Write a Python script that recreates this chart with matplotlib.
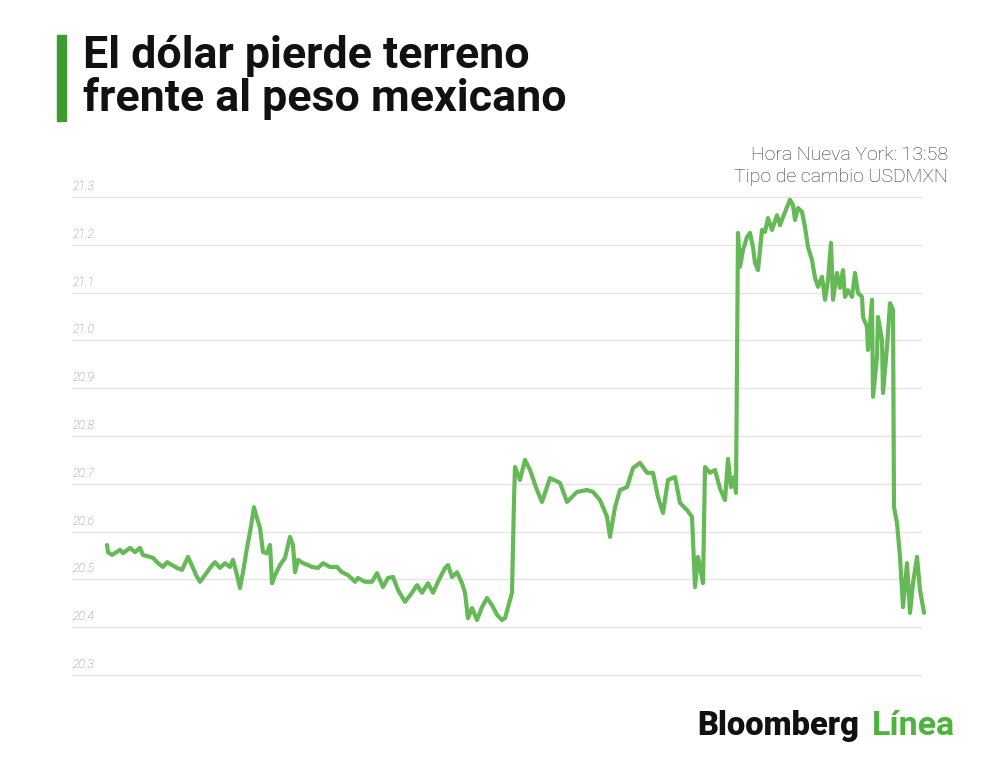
import matplotlib
matplotlib.use("Agg")
import matplotlib.pyplot as plt
from matplotlib.patches import Rectangle
import matplotlib.transforms as mtransforms

# ---- data (USDMXN intraday; t = relative time units) ----
t = [3, 4, 8, 16, 19, 26, 31, 36, 39, 46,
     49, 54, 59, 63, 68, 73, 78, 84, 89, 93,
     96, 101, 106, 111, 116, 121, 126, 129, 133, 136,
     139, 143, 146, 150, 153, 156, 159, 163, 166, 168,
     171, 176, 181, 186, 189, 191, 194, 199, 204, 208,
     214, 219, 226, 233, 238, 244, 251, 254, 261, 268,
     273, 279, 284, 289, 294, 301, 308, 313, 318, 324,
     329, 334, 341, 344, 348, 353, 358, 361, 364, 368,
     373, 378, 383, 388, 393, 398, 401, 404, 406, 408,
     410, 411, 416, 421, 426, 433, 438, 446, 456, 463,
     473, 483, 489, 496, 503, 506, 511, 516, 523, 529,
     536, 543, 549, 554, 559, 564, 571, 576, 583, 588,
     591, 594, 599, 601, 606, 611, 616, 621, 624, 627,
     630, 632, 634, 636, 639, 643, 646, 649, 651, 654,
     658, 661, 664, 668, 673, 676, 679, 683, 686, 689,
     691, 694, 698, 701, 704, 708, 711, 714, 718, 721,
     724, 727, 729, 733, 736, 739, 741, 744, 748, 751,
     754, 758, 759, 763, 764, 768, 769, 773, 774, 778,
     779, 783, 786, 789, 790, 793, 796, 799, 803, 806,
     809, 813, 816, 820]
usdmxn = [20.572, 20.557, 20.551, 20.562, 20.555, 20.566, 20.557, 20.566, 20.551, 20.547,
          20.545, 20.534, 20.526, 20.536, 20.530, 20.524, 20.520, 20.547, 20.524, 20.505,
          20.495, 20.509, 20.524, 20.536, 20.524, 20.534, 20.526, 20.541, 20.509, 20.482,
          20.515, 20.566, 20.599, 20.651, 20.628, 20.608, 20.557, 20.555, 20.572, 20.492,
          20.509, 20.530, 20.545, 20.589, 20.572, 20.515, 20.541, 20.534, 20.530, 20.526,
          20.524, 20.534, 20.526, 20.526, 20.515, 20.509, 20.495, 20.503, 20.495, 20.495,
          20.513, 20.484, 20.503, 20.505, 20.478, 20.453, 20.472, 20.488, 20.472, 20.492,
          20.472, 20.495, 20.524, 20.530, 20.505, 20.515, 20.492, 20.472, 20.419, 20.440,
          20.415, 20.442, 20.461, 20.446, 20.426, 20.415, 20.419, 20.442, 20.457, 20.472,
          20.666, 20.735, 20.708, 20.750, 20.729, 20.687, 20.662, 20.712, 20.702, 20.662,
          20.683, 20.687, 20.683, 20.666, 20.631, 20.589, 20.651, 20.687, 20.693, 20.733,
          20.744, 20.723, 20.723, 20.672, 20.639, 20.708, 20.714, 20.660, 20.645, 20.631,
          20.484, 20.547, 20.492, 20.735, 20.723, 20.729, 20.690, 20.666, 20.752, 20.693,
          20.714, 20.681, 21.225, 21.154, 21.189, 21.216, 21.225, 21.195, 21.162, 21.147,
          21.231, 21.227, 21.256, 21.231, 21.262, 21.241, 21.258, 21.279, 21.294, 21.283,
          21.252, 21.277, 21.269, 21.237, 21.195, 21.168, 21.131, 21.112, 21.133, 21.085,
          21.126, 21.204, 21.085, 21.141, 21.110, 21.147, 21.091, 21.105, 21.091, 21.141,
          21.099, 21.091, 21.049, 21.028, 20.980, 21.085, 20.882, 20.965, 21.049, 21.001,
          20.890, 20.986, 21.078, 21.064, 20.651, 20.618, 20.547, 20.442, 20.534, 20.430,
          20.492, 20.547, 20.478, 20.430]

yticks = [20.3, 20.4, 20.5, 20.6, 20.7, 20.8, 20.9, 21.0, 21.1, 21.2, 21.3]
ytick_labels = ["20.3", "20.4", "20.5", "20.6", "20.7", "20.8", "20.9",
                "21.0", "21.1", "21.2", "21.3"]

title_lines = ["El dólar pierde terreno", "frente al peso mexicano"]
note_lines = ["Hora Nueva York: 13:58", "Tipo de cambio USDMXN"]

LINE_GREEN = "#66b957"
BAR_GREEN = "#3f9a32"
LOGO_GREEN = "#4cb43c"

W, H = 1000, 766
fig = plt.figure(figsize=(W / 100, H / 100), dpi=100)
fig.patch.set_facecolor("white")

# axes: gridlines span x 72..922 px, 21.3 at y=197 px, 20.3 at y=675 px
ylo, yhi = 20.28, 21.32
ppu = 478.0
top_px = 197 - (yhi - 21.3) * ppu
bot_px = 675 + (20.3 - ylo) * ppu
ax = fig.add_axes([72 / W, 1 - bot_px / H, 850 / W, (bot_px - top_px) / H])
ax.set_xlim(-32, 818)
ax.set_ylim(ylo, yhi)
for s in ax.spines.values():
    s.set_visible(False)
ax.set_xticks([])
ax.set_yticks([])
ax.set_facecolor("none")

for yv in yticks:
    ax.axhline(yv, color="#e4e4e4", lw=1.0, zorder=1)

trans = mtransforms.blended_transform_factory(ax.transAxes, ax.transData)
offset = mtransforms.ScaledTranslation(0, 4 / 100, fig.dpi_scale_trans)
for yv, lab in zip(yticks, ytick_labels):
    ax.text(0.001, yv, lab, transform=trans + offset, ha="left", va="bottom",
            fontsize=8.8, color="#858585", family="Roboto", fontweight="light",
            fontstyle="italic")

ax.plot(t, usdmxn, color=LINE_GREEN, lw=3.0, solid_joinstyle="round",
        solid_capstyle="round", clip_on=False, zorder=3)

# title with green bar
fig.patches.append(Rectangle((57 / W, 1 - 121 / H), 9 / W, 86 / H,
                             transform=fig.transFigure, color=BAR_GREEN))
fig.text(83 / W, 1 - 68 / H, title_lines[0], ha="left", va="baseline",
         fontsize=32.2, fontweight="bold", family="Roboto", color="#111111")
fig.text(83 / W, 1 - 111 / H, title_lines[1], ha="left", va="baseline",
         fontsize=32.2, fontweight="bold", family="Roboto", color="#111111")

# note top-right
fig.text(948 / W, 1 - 160 / H, note_lines[0], ha="right", va="baseline",
         fontsize=14, family="Roboto", fontweight="light", color="#333333")
fig.text(948 / W, 1 - 182 / H, note_lines[1], ha="right", va="baseline",
         fontsize=14, family="Roboto", fontweight="light", color="#333333")

# logo
t1 = fig.text(697 / W, 1 - 735 / H, "Bloomberg", ha="left", va="baseline",
              fontsize=23.5, fontweight="black", family="Roboto", color="#111111")
fig.canvas.draw()
bb = t1.get_window_extent()
fig.text((bb.x1 + 13) / W, 1 - 735 / H, "Línea", ha="left", va="baseline",
         fontsize=24.5, fontweight="bold", family="Roboto", color=LOGO_GREEN)

fig.savefig("out.png", dpi=100, facecolor="white")
